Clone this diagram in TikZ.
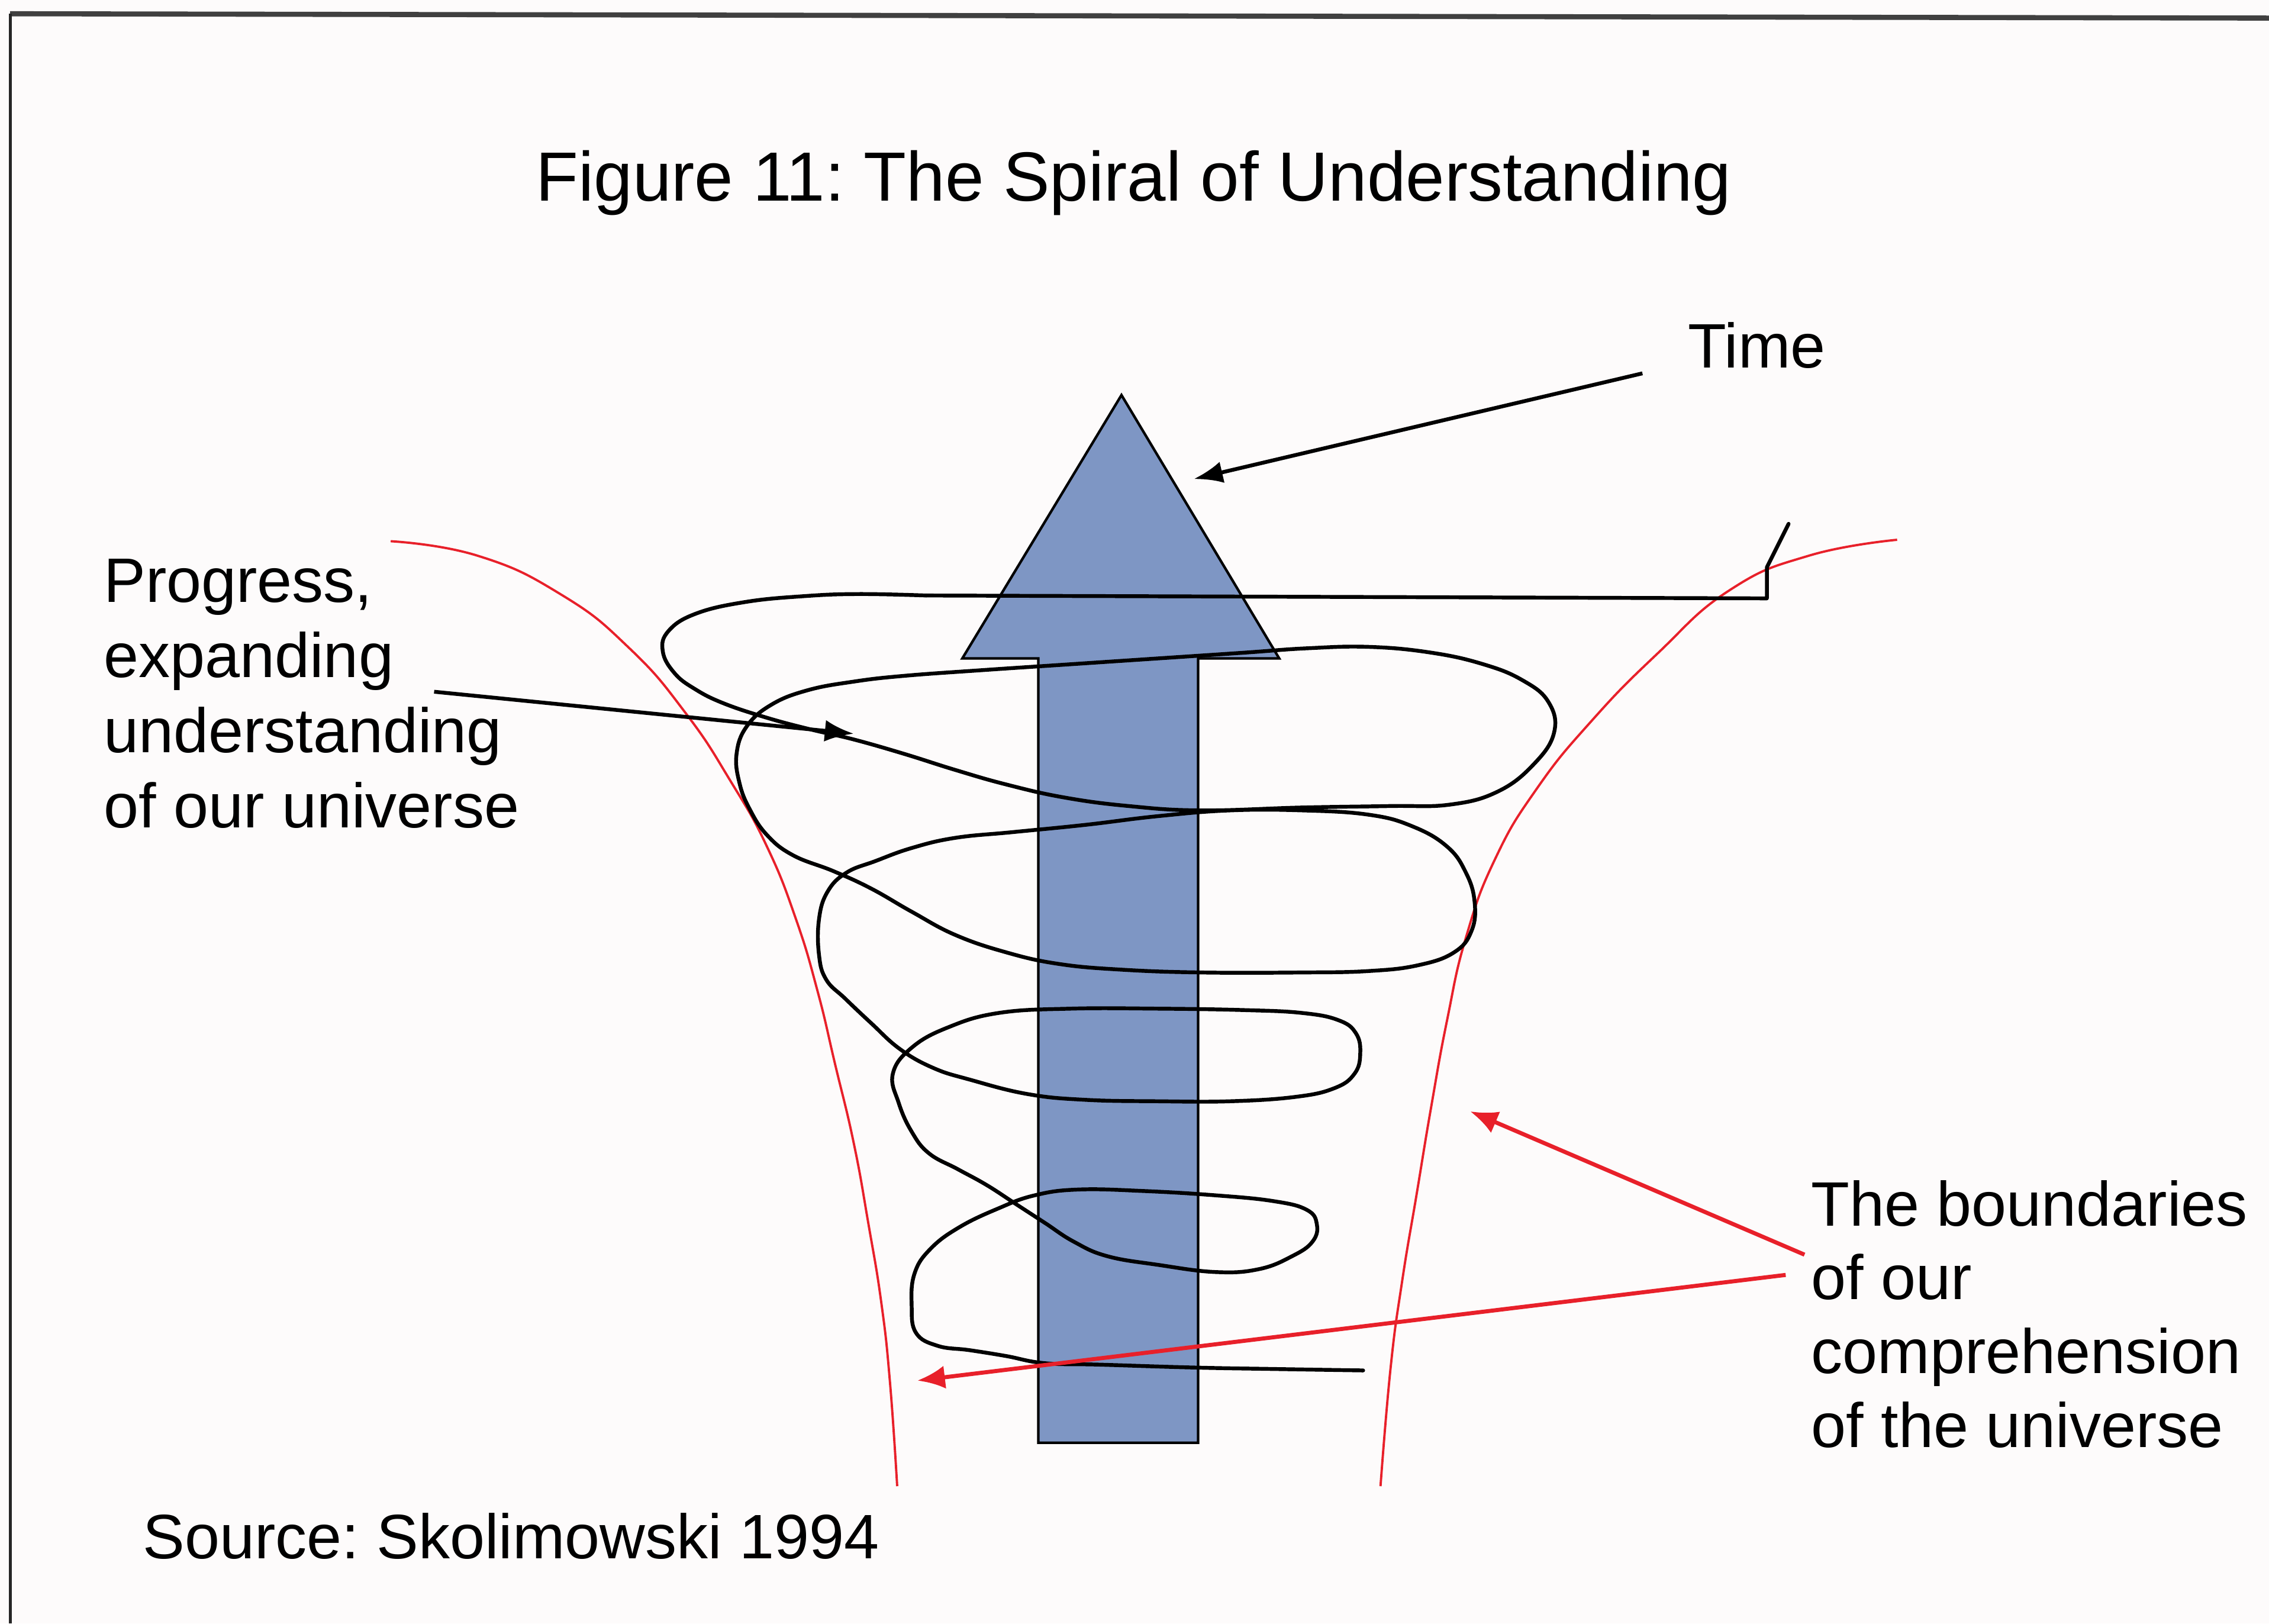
\documentclass[tikz,border=0pt]{standalone}
\usepackage{fontspec}
\setmainfont{Liberation Sans}
\usetikzlibrary{arrows.meta}
\frenchspacing
\definecolor{bgcol}{RGB}{253,251,251}
\definecolor{arrowblue}{RGB}{126,150,196}
\definecolor{redline}{RGB}{232,32,42}
\tikzset{
  lbl/.style={inner sep=0pt, anchor=base west, font=\frenchspacing\fontsize{12.35pt}{14.8pt}\selectfont},
  blkarrow/.style={line width=0.75pt, -{Latex[length=2mm,width=1.5mm]}},
  redarrow/.style={line width=0.8pt, redline, -{Latex[length=1.9mm,width=1.6mm]}},
  redcurve/.style={line width=0.45pt, redline},
  spiralline/.style={line width=0.75pt, black, line join=round, line cap=round},
  bluearrow/.style={fill=arrowblue, draw=black, line width=0.5pt, line join=miter}
}
\begin{document}
\begin{tikzpicture}[x=0.1mm, y=-0.1mm]
\useasboundingbox (0,0) rectangle (1568,1122);
\fill[bgcol] (0,0) rectangle (1568,1122);
% frame (top and left edges)
\draw[line width=1pt, black!75] (7,9.5) -- (1568,12.5);
\draw[line width=0.6pt, black!85] (7,9.5) -- (7,1122);

% boundaries of comprehension
\draw[redcurve] plot[smooth, tension=0.8] coordinates {(270,374) (330,384) (388,411) (435,448) (474,493) (505,540) (530,585) (550,635) (565,685) (577,735) (590,790) (600,845) (609,900) (615,955) (620,1027)};
\draw[redcurve] plot[smooth, tension=0.8] coordinates {(1311,373) (1250,384) (1195,408) (1145,452) (1100,498) (1062,545) (1033,594) (1013,648) (1000,705) (989,765) (979,825) (969,885) (961,945) (954,1027)};

% time arrow
\draw[bluearrow] (717.5,997) -- (717.5,455) -- (665,455) -- (775,273) -- (884,455) -- (828,455) -- (828,997) -- cycle;

% spiral
\draw[spiralline] (1236,362) -- (1221,392) -- (1221,413.5) -- (640,411.5);
\draw[spiralline] plot[smooth, tension=0.7] coordinates {
(640,411.5) (593,410.5) (555,412) (515,416) (481,424) (462,436) (458,450) (466,465) (480,476) (500,486) (530,496) (560,504) (590,511) (625,521) (660,532) (695,542) (735,551) (780,557) (830,560) (900,558) (960,557) (1002,556) (1035,547) (1060,528) (1074,506) (1070,485) (1052,470) (1025,459) (989,451) (946,447) (903,448) (860,451) (800,455) (740,459) (680,463) (625,467) (590,471) (558,477) (533,487) (516,502) (509,521) (511,541) (518,559) (530,577) (548,591) (576,602) (602,614) (630,630) (660,646) (695,658) (731,666) (774,670) (830,672) (900,672) (946,671) (980,667) (1005,658) (1017,643) (1019,623) (1013,603) (1000,585) (976,571) (946,563) (900,560) (850,560) (800,564) (750,570) (700,575) (660,579) (630,586) (605,595) (585,603) (572,616) (566,635) (566,660) (571,677) (584,690) (602,707) (622,725) (645,738) (670,746) (710,756) (750,760) (800,761) (850,761) (895,758) (922,752) (936,742) (940,728) (937,714) (925,705) (900,700) (860,698) (800,697) (740,697) (690,700) (655,710) (630,724) (617,742) (621,762) (630,782) (642,797) (662,808) (682,819) (702,832) (722,845) (742,858) (765,868) (800,874) (840,879) (870,877) (893,868) (907,858) (910,846) (903,836) (880,830) (840,826) (790,823) (745,822) (715,826) (690,835) (663,848) (643,863) (632,880) (630,902) (633,921) (648,930) (670,933) (695,937) (722,942) (760,943) (825,945) (880,946) (942,947)};

% labels
\node[inner sep=0pt, anchor=base, font=\frenchspacing\fontsize{13.7pt}{16pt}\selectfont] (title) at (783.5,139) {Figure 11: The Spiral of Understanding};
\node[lbl] (time) at (1166,254) {Time};
\node[lbl] (prog1) at (71,416) {Progress,};
\node[lbl] (prog2) at (71,468) {expanding};
\node[lbl] (prog3) at (71,520) {understanding};
\node[lbl] (prog4) at (71,572) {of our universe};
\node[lbl] (bnd1) at (1251,847) {The boundaries};
\node[lbl] (bnd2) at (1251,898) {of our};
\node[lbl] (bnd3) at (1251,949) {comprehension};
\node[lbl] (bnd4) at (1251,1000) {of the universe};
\node[lbl] (source) at (98,1077) {Source: Skolimowski 1994};

% connectors
\coordinate (timeStart) at (1135,258);
\coordinate (timeTip) at (825,331);
\coordinate (progStart) at (300,478);
\coordinate (progTip) at (590,507);
\coordinate (bndStartA) at (1247,867);
\coordinate (bndTipA) at (1016,768);
\coordinate (bndStartB) at (1234,881);
\coordinate (bndTipB) at (634,954);
\draw[blkarrow] (timeStart) -- (timeTip);
\draw[blkarrow] (progStart) -- (progTip);
\draw[redarrow] (bndStartA) -- (bndTipA);
\draw[redarrow] (bndStartB) -- (bndTipB);
\end{tikzpicture}
\end{document}
